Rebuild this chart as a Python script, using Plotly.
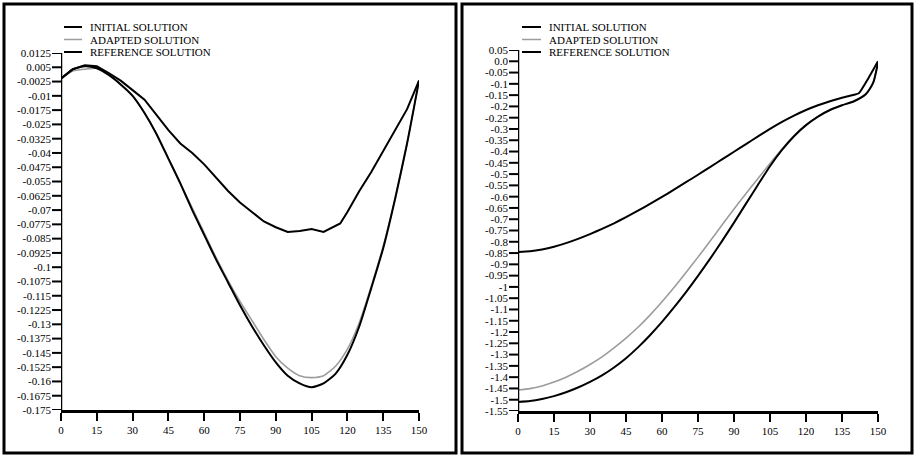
import plotly.graph_objects as go

W, H = 917, 457

series_names = ["INITIAL SOLUTION", "ADAPTED SOLUTION", "REFERENCE SOLUTION"]
x_tick_vals = [0, 15, 30, 45, 60, 75, 90, 105, 120, 135, 150]

# ---- left panel data ----
left_init_x = [0, 5, 10, 15, 20, 25, 30, 35, 40, 45, 50, 55, 60, 65, 70, 75, 80, 85, 90, 95,
               100, 105, 110, 117, 120, 125, 130, 135, 140, 145, 150]
left_init_y = [-0.001, 0.004, 0.006, 0.0055, 0.002, -0.002, -0.007, -0.012, -0.020, -0.028,
               -0.035, -0.040, -0.046, -0.053, -0.060, -0.066, -0.071, -0.076, -0.079, -0.0815,
               -0.081, -0.080, -0.0815, -0.077, -0.071, -0.060, -0.050, -0.039, -0.028, -0.017, -0.002]

left_ref_x = [0, 5, 10, 15, 20, 25, 30, 35, 40, 45, 50, 55, 60, 65, 70, 75, 80, 85, 90, 95,
              100, 105, 110, 115, 120, 125, 130, 135, 140, 145, 150]
left_ref_y = [-0.001, 0.004, 0.0055, 0.0045, 0.001, -0.004, -0.010, -0.019, -0.030, -0.043,
              -0.056, -0.070, -0.083, -0.096, -0.108, -0.120, -0.131, -0.141, -0.150, -0.157,
              -0.161, -0.163, -0.161, -0.156, -0.146, -0.131, -0.111, -0.090, -0.064, -0.035, -0.002]

left_adp_x = left_ref_x
left_adp_y = [-0.001, 0.003, 0.004, 0.0045, 0.001, -0.004, -0.010, -0.019, -0.030, -0.043,
              -0.056, -0.069, -0.082, -0.095, -0.107, -0.118, -0.128, -0.138, -0.147, -0.153,
              -0.157, -0.158, -0.157, -0.152, -0.143, -0.129, -0.110, -0.089, -0.064, -0.035, -0.002]

left_y_ticks = [round(-0.175 + k * 0.0075, 4) for k in range(26)]

# ---- right panel data ----
right_init_x = [0, 5, 10, 15, 20, 25, 30, 35, 40, 45, 50, 55, 60, 65, 70, 75, 80, 85, 90, 95,
                100, 105, 110, 115, 120, 125, 130, 135, 140, 142, 146, 150]
right_init_y = [-0.845, -0.842, -0.834, -0.822, -0.806, -0.787, -0.766, -0.743, -0.718, -0.691,
                -0.662, -0.632, -0.601, -0.569, -0.536, -0.503, -0.469, -0.435, -0.401, -0.367,
                -0.333, -0.300, -0.269, -0.241, -0.216, -0.195, -0.177, -0.162, -0.148, -0.142,
                -0.075, 0.0]

right_ref_x = [0, 5, 10, 15, 20, 25, 30, 35, 40, 45, 50, 55, 60, 65, 70, 75, 80, 85, 90, 95,
               100, 105, 110, 115, 120, 125, 130, 135, 140, 145, 148, 150]
right_ref_y = [-1.510, -1.506, -1.497, -1.484, -1.467, -1.446, -1.421, -1.392, -1.357, -1.316,
               -1.268, -1.214, -1.155, -1.091, -1.023, -0.951, -0.876, -0.797, -0.715, -0.631,
               -0.547, -0.465, -0.393, -0.332, -0.283, -0.245, -0.216, -0.195, -0.177, -0.145,
               -0.095, -0.005]

right_adp_x = right_ref_x
right_adp_y = [-1.457, -1.451, -1.439, -1.422, -1.400, -1.374, -1.344, -1.310, -1.270, -1.227,
               -1.179, -1.125, -1.066, -1.003, -0.936, -0.868, -0.798, -0.726, -0.655, -0.586,
               -0.520, -0.453, -0.389, -0.330, -0.283, -0.245, -0.216, -0.195, -0.177, -0.145,
               -0.095, -0.005]

right_y_ticks = [round(-1.55 + k * 0.05, 2) for k in range(33)]


def fmt(v):
    if abs(v) < 1e-9:
        return "0.0"
    s = ("%.4f" % v).rstrip("0").rstrip(".")
    return s


def px(x):
    return x / W


def py(y):
    return 1 - y / H


FONT = "Liberation Serif"
BLACK = "#000000"
GRAY = "#9c9c9c"

fig = go.Figure()

# left panel traces
fig.add_trace(go.Scatter(x=left_adp_x, y=left_adp_y, mode="lines", name=series_names[1],
                         line=dict(color=GRAY, width=1.6, shape="spline", smoothing=0.6),
                         xaxis="x", yaxis="y", showlegend=False))
fig.add_trace(go.Scatter(x=left_ref_x, y=left_ref_y, mode="lines", name=series_names[2],
                         line=dict(color=BLACK, width=2, shape="spline", smoothing=0.6),
                         xaxis="x", yaxis="y", showlegend=False))
fig.add_trace(go.Scatter(x=left_init_x, y=left_init_y, mode="lines", name=series_names[0],
                         line=dict(color=BLACK, width=2),
                         xaxis="x", yaxis="y", showlegend=False))

# right panel traces
fig.add_trace(go.Scatter(x=right_adp_x, y=right_adp_y, mode="lines", name=series_names[1],
                         line=dict(color=GRAY, width=1.6, shape="spline", smoothing=0.6),
                         xaxis="x2", yaxis="y2", showlegend=False))
fig.add_trace(go.Scatter(x=right_ref_x, y=right_ref_y, mode="lines", name=series_names[2],
                         line=dict(color=BLACK, width=2, shape="spline", smoothing=0.6),
                         xaxis="x2", yaxis="y2", showlegend=False))
fig.add_trace(go.Scatter(x=right_init_x, y=right_init_y, mode="lines", name=series_names[0],
                         line=dict(color=BLACK, width=2, shape="spline", smoothing=0.5),
                         xaxis="x2", yaxis="y2", showlegend=False))

tickfont = dict(family=FONT, size=11, color=BLACK)

common_x = dict(range=[0, 150], tickvals=x_tick_vals, ticktext=[str(v) for v in x_tick_vals],
                showline=True, linecolor=BLACK, linewidth=2.5, ticks="outside", ticklen=8,
                tickwidth=2, tickcolor=BLACK, showgrid=False, zeroline=False, tickfont=tickfont)

# y axis line and tick marks are added as axis-referenced shapes below
common_y = dict(showline=False, ticks="", showgrid=False, zeroline=False, tickfont=tickfont,
                automargin=False, ticklabelstandoff=9)

# panel geometry (pixels)
L = dict(x0=61, x1=419, top=53, bot=410)
R = dict(x0=518, x1=878, top=50, bot=411)

fig.update_layout(
    width=W, height=H, margin=dict(l=0, r=0, t=0, b=0, autoexpand=False),
    paper_bgcolor="white", plot_bgcolor="white",
    font=dict(family=FONT, size=11, color=BLACK),
    xaxis=dict(domain=[px(L["x0"]), px(L["x1"])], anchor="y", **common_x),
    xaxis2=dict(domain=[px(R["x0"]), px(R["x1"])], anchor="y2", **common_x),
    yaxis=dict(domain=[py(L["bot"]), py(L["top"])], anchor="x", range=[-0.175, 0.0125],
               tickvals=left_y_ticks, ticktext=[fmt(v) for v in left_y_ticks], **common_y),
    yaxis2=dict(domain=[py(R["bot"]), py(R["top"])], anchor="x2", range=[-1.55, 0.05],
                tickvals=right_y_ticks, ticktext=[fmt(v) for v in right_y_ticks], **common_y),
)

shapes = []
annotations = []

# y axis lines and outward tick marks, positioned through the axes' own scales
for (xr, yr, ticks, rng, ax_px) in [("x", "y", left_y_ticks, [-0.175, 0.0125], L["x0"]),
                                     ("x2", "y2", right_y_ticks, [-1.55, 0.05], R["x0"])]:
    shapes.append(dict(type="line", xref=xr, yref=yr, x0=0, x1=0, y0=rng[0], y1=rng[1],
                       line=dict(color=BLACK, width=2.5), layer="above"))
    for t in ticks:
        shapes.append(dict(type="line", xref="paper", yref=yr, x0=px(ax_px - 9), x1=px(ax_px),
                           y0=t, y1=t, line=dict(color=BLACK, width=2), layer="above"))

# frames around each panel
for (a, b) in [(4, 456), (462, 912)]:
    shapes.append(dict(type="rect", xref="paper", yref="paper", x0=px(a), x1=px(b),
                       y0=py(453), y1=py(4), line=dict(color=BLACK, width=3)))

# compact legends
legend_colors = [BLACK, GRAY, BLACK]
legend_widths = [2, 1.5, 2]
for (lx0, lx1, tx) in [(64, 82, 88), (522, 541, 547)]:
    for i, name in enumerate(series_names):
        yy = 27 + i * 12.5
        shapes.append(dict(type="line", xref="paper", yref="paper", x0=px(lx0), x1=px(lx1),
                           y0=py(yy), y1=py(yy),
                           line=dict(color=legend_colors[i], width=legend_widths[i])))
        annotations.append(dict(xref="paper", yref="paper", x=px(tx), y=py(yy), text=name,
                                showarrow=False, xanchor="left", yanchor="middle",
                                font=dict(family=FONT, size=11, color=BLACK)))

fig.update_layout(shapes=shapes, annotations=annotations)

fig.write_html("out.html")
